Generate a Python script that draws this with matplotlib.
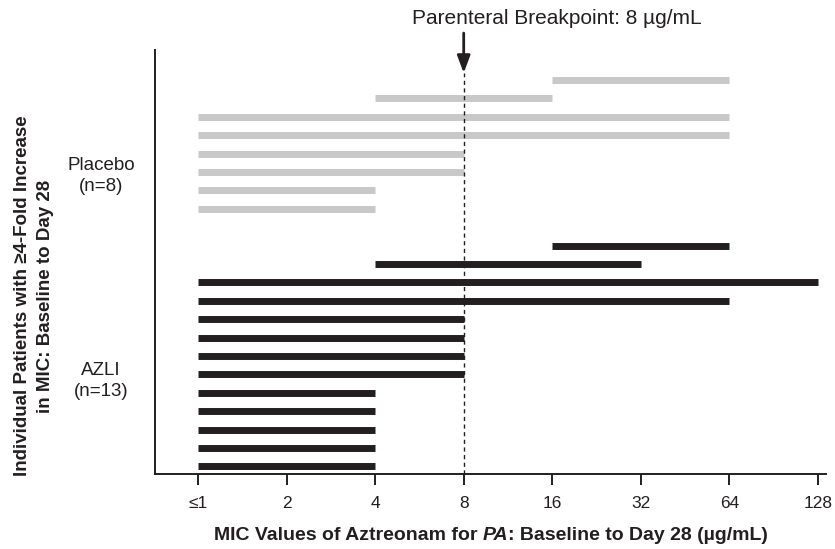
import math

import matplotlib.pyplot as plt

plt.rcParams['font.family'] = ['Liberation Sans', 'DejaVu Sans']

# MIC tick labels (log2 positions 0..7)
tick_labels = ['\u22641', '2', '4', '8', '16', '32', '64', '128']
breakpoint_mic = 8

# Baseline and Day 28 MIC per patient, top to bottom
placebo_start = [16, 4, 1, 1, 1, 1, 1, 1]
placebo_end = [64, 16, 64, 64, 8, 8, 4, 4]
azli_start = [16, 4, 1, 1, 1, 1, 1, 1, 1, 1, 1, 1, 1]
azli_end = [64, 32, 128, 64, 8, 8, 8, 8, 4, 4, 4, 4, 4]

INK = '#231f20'

fig = plt.figure(figsize=(8.35, 5.49), dpi=100)
ax = fig.add_axes([155 / 835, 75 / 549, 671 / 835, 424 / 549])

# Placebo rows 0..7, one empty row, AZLI rows 9..21
p_rows = list(range(len(placebo_start)))
a_rows = [len(placebo_start) + 1 + i for i in range(len(azli_start))]

ax.hlines(p_rows, [math.log2(v) for v in placebo_start],
          [math.log2(v) for v in placebo_end], color='#c8c8c8', lw=5.0)
ax.hlines(a_rows, [math.log2(v) for v in azli_start],
          [math.log2(v) for v in azli_end], color=INK, lw=5.0)

ax.set_xlim(-0.485, 7.09)
ax.set_ylim(21.41, -1.63)

# Breakpoint line and arrow
bp = math.log2(breakpoint_mic)
ax.plot([bp, bp], [21.41, -0.4], color=INK, lw=1.0,
        linestyle=(0, (3, 2.5)))
ax.annotate('', xy=(bp, -0.38), xytext=(bp, -2.55), xycoords='data',
            annotation_clip=False,
            arrowprops=dict(arrowstyle='-|>,head_length=0.8,head_width=0.3',
                            color=INK, lw=2.0, mutation_scale=13,
                            shrinkA=0, shrinkB=0))
fig.text(557 / 835, 1 - 19 / 549, 'Parenteral Breakpoint: 8 \u00b5g/mL',
         ha='center', va='center', fontsize=15, color=INK)

ax.set_xticks(range(len(tick_labels)))
ax.set_xticklabels(tick_labels, fontsize=12.5, color=INK)
ax.set_yticks([])
ax.tick_params(axis='x', direction='out', length=8, width=1.4,
               color=INK, pad=8)
for side in ['top', 'right']:
    ax.spines[side].set_visible(False)
for side in ['left', 'bottom']:
    ax.spines[side].set_linewidth(1.4)
    ax.spines[side].set_color(INK)

# Group labels
fig.text(101 / 835, 1 - 176 / 549, 'Placebo\n(n=8)', ha='center',
         va='center', fontsize=13.5, color=INK, linespacing=1.25)
fig.text(101 / 835, 1 - 381 / 549, 'AZLI\n(n=13)', ha='center',
         va='center', fontsize=13.5, color=INK, linespacing=1.25)

# Y label
fig.text(34 / 835, 1 - 296 / 549,
         'Individual Patients with \u22654-Fold Increase\n'
         'in MIC: Baseline to Day 28',
         ha='center', va='center', rotation=90, fontsize=13.5,
         fontweight='bold', color=INK, linespacing=1.4)

# X label with italic PA, pieced together left to right
y_lab = 1 - 536 / 549
t1 = fig.text(214 / 835, y_lab, 'MIC Values of Aztreonam for ',
              ha='left', va='center', fontsize=14, fontweight='bold',
              color=INK)
fig.canvas.draw()
r = fig.canvas.get_renderer()
x_next = t1.get_window_extent(r).x1 / fig.bbox.width
t2 = fig.text(x_next, y_lab, 'PA', ha='left', va='center', fontsize=14,
              fontweight='bold', fontstyle='italic', color=INK)
fig.canvas.draw()
x_next = t2.get_window_extent(r).x1 / fig.bbox.width
fig.text(x_next, y_lab, ': Baseline to Day 28 (\u00b5g/mL)', ha='left',
         va='center', fontsize=14, fontweight='bold', color=INK)

fig.savefig('out.png', dpi=100)
